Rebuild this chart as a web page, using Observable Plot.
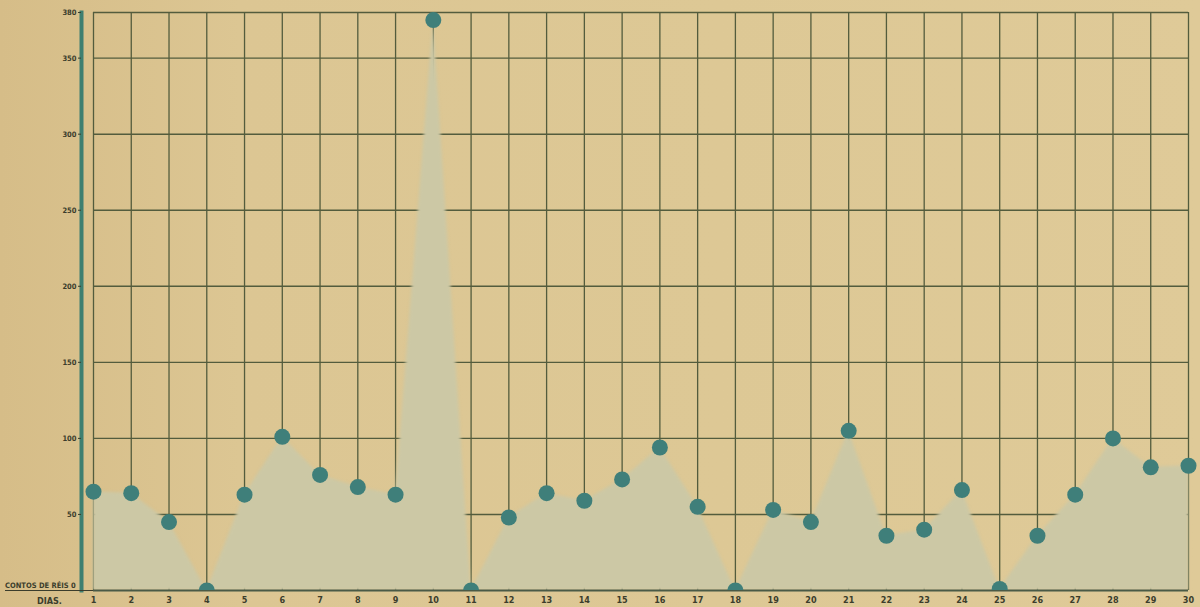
<!DOCTYPE html>
<html>
<head>
<meta charset="utf-8">
<script src="https://cdn.jsdelivr.net/npm/d3@7"></script>
<script src="https://cdn.jsdelivr.net/npm/@observablehq/plot@0.6"></script>
<style>
  html, body { margin: 0; padding: 0; background: #dac592; }
  #wrap { position: relative; width: 1200px; height: 607px; overflow: hidden;
          background: linear-gradient(90deg, #d6bd88 0%, #dcc693 20%, #ddc895 60%, #dfca98 100%); }
  #wrap svg { position: absolute; left: 0; top: 0; background: transparent; }
  .soft path { filter: blur(1.8px); }
  .lbl { position: absolute; font-family: "DejaVu Sans Condensed", "DejaVu Sans", sans-serif;
         font-weight: bold; color: #3b3d2c; white-space: nowrap; }
</style>
</head>
<body>
<div id="wrap"></div>
<script>
const days = [1,2,3,4,5,6,7,8,9,10,11,12,13,14,15,16,17,18,19,20,21,22,23,24,25,26,27,28,29,30];
const values = [65,64,45,0,63,101,76,68,63,375,0,48,64,59,73,94,55,0,53,45,105,36,40,66,1,36,63,100,81,82];
const yTicks = [0,50,100,150,200,250,300,350,380];
const gridY = [50,100,150,200,250,300,350,380];

const data = days.map((d, i) => ({day: d, value: values[i]}));

const chart = Plot.plot({
  width: 1200,
  height: 607,
  marginLeft: 81,
  marginRight: 2,
  insetLeft: 12,
  insetRight: 10,
  marginTop: 12,
  marginBottom: 17,
  style: {background: "transparent", overflow: "visible"},
  x: {domain: [1, 30]},
  y: {domain: [0, 380]},
  marks: [
    Plot.ruleY(gridY, {x1: 1, x2: 30, stroke: "#535c3d", strokeWidth: 1.4}),
    Plot.ruleX(days, {y1: 0, y2: 380, stroke: "#535c3d", strokeWidth: 1.3}),
    Plot.areaY(data, {x: "day", y: "value", fill: "#ccc8a5", curve: "linear", className: "soft"}),
    Plot.ruleY([0], {x1: 1, x2: 30, stroke: "#4a5a46", strokeWidth: 2}),
    Plot.frame({anchor: "left", stroke: "#3e7f70", strokeWidth: 4}),
    Plot.axisY({ticks: yTicks, tickSize: 3, tickPadding: 2, fontSize: 7.5, fontWeight: "bold",
                fontFamily: "DejaVu Sans Condensed, DejaVu Sans, sans-serif",
                color: "#3b3d2c", stroke: "#3b3d2c", label: null,
                tickFormat: d => d === 0 ? "" : String(d)}),
    Plot.axisX({ticks: days, tickSize: 0, tickPadding: 6, fontSize: 9, fontWeight: "bold",
                fontFamily: "DejaVu Sans Condensed, DejaVu Sans, sans-serif",
                color: "#3b3d2c", label: null, tickFormat: d => String(d)}),
    Plot.dot(data, {x: "day", y: "value", r: 8, fill: "#3f7f7a", stroke: "none", clip: "frame"})
  ]
});
const wrap = document.getElementById("wrap");
wrap.appendChild(chart);

const l1 = document.createElement("div");
l1.className = "lbl";
l1.style.cssText = "left:5px; top:582px; font-size:7.5px; border-bottom:1.5px solid #3b3d2c; padding-right:4px; width:84px; line-height:8px;";
l1.textContent = "CONTOS DE RÉIS  0";
wrap.appendChild(l1);

const l2 = document.createElement("div");
l2.className = "lbl";
l2.style.cssText = "left:37px; top:596px; font-size:9px; line-height:10px;";
l2.textContent = "DIAS.";
wrap.appendChild(l2);
</script>
</body>
</html>
